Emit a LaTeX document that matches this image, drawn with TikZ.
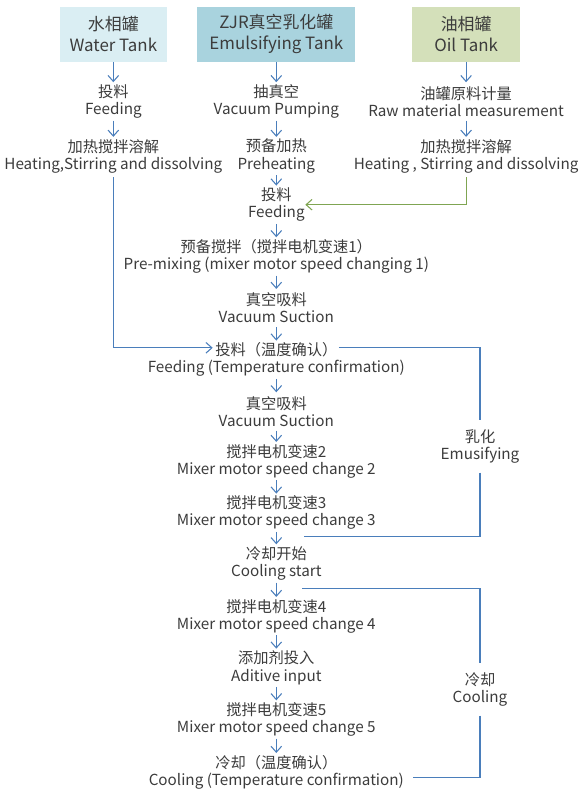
\documentclass[tikz,border=0pt]{standalone}
\usepackage{fontspec}
\setmainfont{Noto Sans CJK SC}
\usetikzlibrary{arrows.meta}
\definecolor{waterbox}{HTML}{DAEEF3}
\definecolor{zjrbox}{HTML}{A9D3DE}
\definecolor{oilbox}{HTML}{D4E0BA}
\definecolor{flowblue}{HTML}{4A7EBB}
\definecolor{flowgreen}{HTML}{7FA552}
\definecolor{txt}{HTML}{3C3C3C}
\tikzset{
  tank/.style={fill=#1,text=txt,minimum height=41.25pt,inner sep=0pt,align=center,
    font=\fontsize{12.75pt}{15.75pt}\selectfont},
  proc/.style={text=txt,minimum height=28.5pt,inner ysep=0pt,align=center,
    font=\fontsize{11.5pt}{12.9pt}\selectfont},
  lab/.style={text=txt,inner ysep=7pt,align=center,
    font=\fontsize{11.5pt}{12.9pt}\selectfont},
  arr/.style={flowblue,line width=0.8pt,-{Straight Barb[length=4.5pt,width=8pt]}},
  garr/.style={flowgreen,line width=0.8pt,-{Straight Barb[length=4.5pt,width=8pt]}},
  ring/.style={flowblue,line width=0.8pt}
}
\begin{document}
\begin{tikzpicture}[x=0.75pt,y=-0.75pt]
        \fill[white] (0,0) rectangle (575,791);
        % tanks
        \node[tank=waterbox,minimum width=81pt] (water) at (113,34.5) {水相罐\\Water Tank};
        \node[tank=zjrbox,minimum width=119pt] (zjr) at (277,34.5) {ZJR真空乳化罐\\Emulsifying Tank};
        \node[tank=oilbox,minimum width=82pt] (oil) at (468,34.5) {油相罐\\Oil Tank};
        % water phase
        \node[proc] (w1) at (113,102) {投料\\Feeding};
        \node[proc] (w2) at (113,157) {加热搅拌溶解\\Heating,Stirring and dissolving};
        % oil phase
        \node[proc] (o1) at (468,102) {油罐原料计量\\Raw material measurement};
        \node[proc] (o2) at (468,157) {加热搅拌溶解\\Heating , Stirring and dissolving};
        % main line
        \node[proc] (z1) at (277,102) {抽真空\\Vacuum Pumping};
        \node[proc] (z2) at (277,157) {预备加热\\Preheating};
        \node[proc] (z3) at (277,206) {投料\\Feeding};
        \node[proc] (m1) at (277,258) {预备搅拌（搅拌电机变速1）\\Pre-mixing (mixer motor speed changing 1)};
        \node[proc] (m2) at (277,310) {真空吸料\\Vacuum Suction};
        \node[proc] (m3) at (277,362) {投料（温度确认）\\Feeding (Temperature confirmation)};
        \node[proc] (m4) at (277,414) {真空吸料\\Vacuum Suction};
        \node[proc] (m5) at (277,464) {搅拌电机变速2\\Mixer motor speed change 2};
        \node[proc] (m6) at (277,516) {搅拌电机变速3\\Mixer motor speed change 3};
        \node[proc] (m7) at (277,567) {冷却开始\\Cooling start};
        \node[proc] (m8) at (277,620) {搅拌电机变速4\\Mixer motor speed change 4};
        \node[proc] (m9) at (277,672) {添加剂投入\\Aditive input};
        \node[proc] (m10) at (277,724) {搅拌电机变速5\\Mixer motor speed change 5};
        \node[proc] (m11) at (277,777) {冷却（温度确认）\\Cooling (Temperature confirmation)};
        % side labels
        \node[lab] (emu) at (482,449) {乳化\\Emusifying};
        \node[lab] (cool) at (482,693.5) {冷却\\Cooling};
        \coordinate (fin) at (213,350);
        \coordinate (emtop) at (340,350);
        \coordinate (embot) at (305,540);
        \coordinate (cotop) at (303,592);
        \coordinate (cobot) at (415,782);
        % arrows
        \draw[arr] (water) -- (w1);
        \draw[arr] (w1) -- (w2);
        \draw[arr] (oil) -- (o1);
        \draw[arr] (o1) -- (o2);
        \draw[arr] (zjr) -- (z1);
        \draw[arr] (z1) -- (z2);
        \draw[arr] (z2) -- (z3);
        \draw[arr] (z3) -- (m1);
        \draw[arr] (m1) -- (m2);
        \draw[arr] (m2) -- (m3);
        \draw[arr] (m3) -- (m4);
        \draw[arr] (m4) -- (m5);
        \draw[arr] (m5) -- (m6);
        \draw[arr] (m6) -- (m7);
        \draw[arr] (m7) -- (m8);
        \draw[arr] (m8) -- (m9);
        \draw[arr] (m9) -- (m10);
        \draw[arr] (m10) -- (m11);
        \draw[arr,shorten <=1.5pt] (w2.south) |- (fin);
        \draw[garr,shorten <=1.5pt,shorten >=-3pt] (o2.south) |- (z3.east);
        % emulsifying and cooling
        \draw[ring] (emtop) -| (emu.north);
        \draw[ring] (emu.south) |- (embot);
        \draw[ring] (cotop) -| (cool.north);
        \draw[ring] (cool.south) |- (cobot);
\end{tikzpicture}
\end{document}
